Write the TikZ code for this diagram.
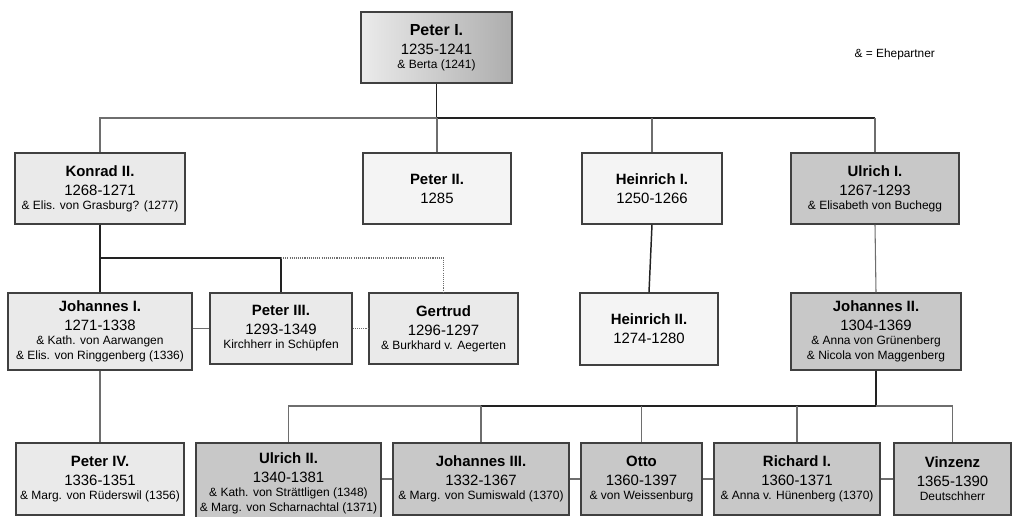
\documentclass[tikz,border=0pt]{standalone}
\usepackage{fontspec}
\setmainfont{Liberation Sans}
\definecolor{bordc}{HTML}{404040}
\definecolor{lightA}{HTML}{EAEAEA}
\definecolor{lightB}{HTML}{F4F4F4}
\definecolor{midC}{HTML}{C8C8C8}
\definecolor{lineD}{HTML}{222222}
\definecolor{lineG}{HTML}{6E6E6E}
\newcommand\pnm[1]{{\bfseries #1}}
\newcommand\psp[1]{{\fontsize{9}{11}\selectfont #1}}
\tikzset{
  pbox/.style={draw=bordc, line width=1pt, inner sep=0pt, align=center,
    font=\fontsize{11.2}{14.25}\selectfont},
  wh/.style 2 args={minimum width=#1*0.75pt, minimum height=#2*0.75pt},
  lA/.style={pbox, fill=lightA},
  lB/.style={pbox, fill=lightB},
  lC/.style={pbox, fill=midC},
  dk/.style={draw=lineD, line width=1.1pt},
  dkk/.style={draw=lineD, line width=1.7pt},
  gy/.style={draw=lineG, line width=0.8pt},
  dt/.style={draw=lineG, line width=0.8pt, dash pattern=on 0.8pt off 0.8pt},
}
\begin{document}
\begin{tikzpicture}[x=0.75pt, y=-0.75pt]
\fill[white] (0,0) rectangle (1014,517);
\useasboundingbox (0,0) rectangle (1014,517);

% top
\node[pbox, wh={151}{71}, left color=white!92!black, right color=white!68!black] (peter1) at (436.5,47.5)
  {{\bfseries\fontsize{12}{14}\selectfont Peter I.}\\1235-1241\\[-3.75pt]\psp{\& Berta (1241)}};
\node[anchor=base west, font=\fontsize{8.9}{11}\selectfont] (legend) at (850,58) {\& = Ehepartner};

% row 2
\node[lA, wh={170}{71}] (konrad) at (100,188.5)
  {\pnm{Konrad II.}\\1268-1271\\[-3.75pt]\psp{\& Elis. von Grasburg? (1277)}};
\node[lB, wh={148}{71}] (peter2) at (437,188.5) {\pnm{Peter II.}\\1285};
\node[lB, wh={140}{71}] (heinrich1) at (652,188.5) {\pnm{Heinrich I.}\\1250-1266};
\node[lC, wh={168}{71}] (ulrich1) at (875,188.5)
  {\pnm{Ulrich I.}\\1267-1293\\[-3.75pt]\psp{\& Elisabeth von Buchegg}};

% row 3
\node[lA, wh={184}{77}] (johannes1) at (100,331.5)
  {\pnm{Johannes I.}\\1271-1338\\[-3.75pt]\psp{\& Kath. von Aarwangen}\\[-3pt]\psp{\& Elis. von Ringgenberg (1336)}};
\node[lA, wh={142}{71}] (peter3) at (281,328.5)
  {\pnm{Peter III.}\\1293-1349\\[-3.75pt]\psp{Kirchherr in Schüpfen}};
\node[lA, wh={149}{71}] (gertrud) at (443.5,328.5)
  {\pnm{Gertrud}\\1296-1297\\[-3.75pt]\psp{\& Burkhard v. Aegerten}};
\node[lB, wh={138}{72}] (heinrich2) at (649,329) {\pnm{Heinrich II.}\\1274-1280};
\node[lC, wh={170}{77}] (johannes2) at (876,331.5)
  {\pnm{Johannes II.}\\1304-1369\\[-3.75pt]\psp{\& Anna von Grünenberg}\\[-3pt]\psp{\& Nicola von Maggenberg}};

% row 4
\node[lA, wh={168}{72}] (peter4) at (100,479)
  {\pnm{Peter IV.}\\1336-1351\\[-3.75pt]\psp{\& Marg. von Rüderswil (1356)}};
\node[lC, wh={185}{80}] (ulrich2) at (288.5,483)
  {\pnm{Ulrich II.}\\1340-1381\\[-3.75pt]\psp{\& Kath. von Strättligen (1348)}\\[-3pt]\psp{\& Marg. von Scharnachtal (1371)}};
\node[lC, wh={176}{72}] (johannes3) at (481,479)
  {\pnm{Johannes III.}\\1332-1367\\[-3.75pt]\psp{\& Marg. von Sumiswald (1370)}};
\node[lC, wh={121}{72}] (otto) at (641.5,479)
  {\pnm{Otto}\\1360-1397\\[-3.75pt]\psp{\& von Weissenburg}};
\node[lC, wh={166}{72}] (richard) at (797,479)
  {\pnm{Richard I.}\\1360-1371\\[-3.75pt]\psp{\& Anna v. Hünenberg (1370)}};
\node[lC, wh={117}{72}] (vinzenz) at (952.5,479)
  {\pnm{Vinzenz}\\1365-1390\\[-3.75pt]\psp{Deutschherr}};

% connectors: top
\coordinate (hub1) at (436.5,118);
\draw[dk] (peter1.south) -- (hub1);
\draw[gy] (konrad.north) |- (hub1);
\draw[dk] (hub1) -- (hub1 -| ulrich1.north);
\draw[gy] (hub1 -| ulrich1.north) -- (ulrich1.north);
\draw[gy] (hub1 -| peter2.north) -- (peter2.north);
\draw[gy] (hub1 -| heinrich1.north) -- (heinrich1.north);

% Konrad's children
\coordinate (hub2) at (100,258);
\draw[dk] (konrad.south) -- (johannes1.north);
\draw[dk] (hub2) -| (peter3.north);
\draw[dt] (hub2 -| peter3.north) -| (gertrud.north);
\draw[gy] (peter3.west -| johannes1.east) -- (peter3.west);
\draw[dt] (peter3.east) -- (gertrud.west);
\draw[gy] (johannes1.south) -- (peter4.north);

% Heinrich, Ulrich
\draw[dk] (heinrich1.south) -- (heinrich2.north);
\draw[gy] (ulrich1.south) -- (johannes2.north);

% Johannes II's children
\coordinate (hub3) at (876,406);
\draw[dkk] (johannes2.south) -- (hub3) -- (hub3 -| johannes3.north);
\draw[gy] (hub3 -| johannes3.north) -- (hub3 -| ulrich2.north) -- (ulrich2.north);
\draw[gy] (hub3) -- (hub3 -| vinzenz.north) -- (vinzenz.north);
\draw[gy] (hub3 -| johannes3.north) -- (johannes3.north);
\draw[gy] (hub3 -| otto.north) -- (otto.north);
\draw[gy] (hub3 -| richard.north) -- (richard.north);
\draw[gy] (johannes3.west -| ulrich2.east) -- (johannes3.west);
\draw[gy] (johannes3.east) -- (otto.west);
\draw[gy] (otto.east) -- (richard.west);
\draw[gy] (richard.east) -- (vinzenz.west);
\end{tikzpicture}
\end{document}
